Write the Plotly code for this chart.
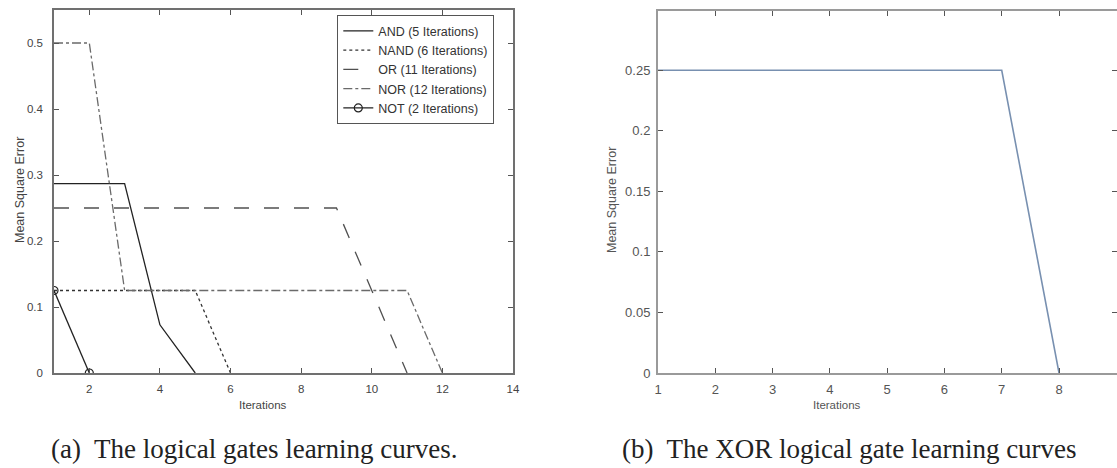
import plotly.graph_objects as go

# ---- data: left panel (logical gates) ----
and_x = [1, 2, 3, 4, 5]
and_y = [0.287, 0.287, 0.287, 0.073, 0.0]
nand_x = [1, 2, 3, 4, 5, 6]
nand_y = [0.125, 0.125, 0.125, 0.125, 0.125, 0.0]
or_x = [1, 2, 3, 4, 5, 6, 7, 8, 9, 10, 11]
or_y = [0.25, 0.25, 0.25, 0.25, 0.25, 0.25, 0.25, 0.25, 0.25, 0.125, 0.0]
nor_x = [1, 2, 3, 4, 5, 6, 7, 8, 9, 10, 11, 12]
nor_y = [0.5, 0.5, 0.125, 0.125, 0.125, 0.125, 0.125, 0.125, 0.125, 0.125, 0.125, 0.0]
not_x = [1, 2]
not_y = [0.125, 0.0]

# ---- data: right panel (XOR) ----
xor_x = [1, 2, 3, 4, 5, 6, 7, 8]
xor_y = [0.25, 0.25, 0.25, 0.25, 0.25, 0.25, 0.25, 0.0]

left_xticks = [2, 4, 6, 8, 10, 12, 14]
left_yticks = [0, 0.1, 0.2, 0.3, 0.4, 0.5]
left_yticklabels = ["0", "0.1", "0.2", "0.3", "0.4", "0.5"]
right_xticks = [1, 2, 3, 4, 5, 6, 7, 8, 9]
right_yticks = [0, 0.05, 0.1, 0.15, 0.2, 0.25]
right_yticklabels = ["0", "0.05", "0.1", "0.15", "0.2", "0.25"]

W, H = 1117, 468
SANS = "Liberation Sans, Arial, sans-serif"
SERIF = "Liberation Serif, Times New Roman, serif"

fig = go.Figure()

fig.add_trace(go.Scatter(x=and_x, y=and_y, mode="lines", name="AND (5 Iterations)",
                         line=dict(color="#222222", width=1.3), xaxis="x", yaxis="y"))
fig.add_trace(go.Scatter(x=nand_x, y=nand_y, mode="lines", name="NAND (6 Iterations)",
                         line=dict(color="#333333", width=1.3, dash="dot"), xaxis="x", yaxis="y"))
fig.add_trace(go.Scatter(x=or_x, y=or_y, mode="lines", name="OR (11 Iterations)",
                         line=dict(color="#505050", width=1.3, dash="longdash"), xaxis="x", yaxis="y"))
fig.add_trace(go.Scatter(x=nor_x, y=nor_y, mode="lines", name="NOR (12 Iterations)",
                         line=dict(color="#6a6a6a", width=1.3, dash="dashdot"), xaxis="x", yaxis="y"))
fig.add_trace(go.Scatter(x=not_x, y=not_y, mode="lines+markers", name="NOT (2 Iterations)",
                         line=dict(color="#222222", width=1.3),
                         marker=dict(symbol="circle-open", size=8, color="#222222", line=dict(width=1.2)),
                         xaxis="x", yaxis="y"))

fig.add_trace(go.Scatter(x=xor_x, y=xor_y, mode="lines", name="XOR",
                         line=dict(color="#7890b0", width=1.6), xaxis="x2", yaxis="y2",
                         showlegend=False))

def px_x(p):
    return p / W

def px_y(p):
    return 1 - p / H

axis_common = dict(showgrid=False, zeroline=False, showline=True, mirror="ticks",
                   ticks="inside", ticklen=5, tickwidth=1, automargin=False)

fig.update_layout(
    width=W, height=H,
    margin=dict(l=0, r=0, t=0, b=0, pad=0),
    paper_bgcolor="white", plot_bgcolor="white",
    font=dict(family=SANS, size=11, color="#333333"),
    xaxis=dict(domain=[px_x(54), px_x(513)], range=[1, 14], tickvals=left_xticks,
               linecolor="#707070", linewidth=1.5, tickcolor="#555555",
               tickfont=dict(size=11.5, color="#444444"), ticklabelstandoff=4,
               anchor="y", **axis_common),
    yaxis=dict(domain=[px_y(373), px_y(10)], range=[0, 0.55], tickvals=left_yticks,
               ticktext=left_yticklabels,
               linecolor="#707070", linewidth=1.5, tickcolor="#555555",
               tickfont=dict(size=11.5, color="#444444"), ticklabelstandoff=7,
               anchor="x", **axis_common),
    xaxis2=dict(domain=[px_x(658), 1.0], range=[1, 9.012], tickvals=right_xticks,
                linecolor="#9a9a9a", linewidth=2, tickcolor="#555555",
                tickfont=dict(size=13, color="#555555"), ticklabelstandoff=3,
                anchor="y2", **axis_common),
    yaxis2=dict(domain=[px_y(373), px_y(11)], range=[0, 0.299], tickvals=right_yticks,
                ticktext=right_yticklabels,
                linecolor="#9a9a9a", linewidth=2, tickcolor="#555555",
                tickfont=dict(size=13, color="#555555"), ticklabelstandoff=3,
                anchor="x2", **axis_common),
    showlegend=True,
    legend=dict(x=px_x(337), y=px_y(15), xanchor="left", yanchor="top",
                bgcolor="white", bordercolor="#555555", borderwidth=1.3,
                font=dict(family=SANS, size=12.5, color="#333333"),
                itemwidth=30, tracegroupgap=0),
)

def ann(text, x, y, size, color, family=SANS, angle=0):
    return dict(text=text, x=px_x(x), y=px_y(y), xref="paper", yref="paper",
                xanchor="center", yanchor="middle", textangle=angle, showarrow=False,
                font=dict(family=family, size=size, color=color))

annotations = [
    ann("Mean Square Error", 20, 190, 12.5, "#444444", angle=-90),
    ann("Iterations", 263, 405, 11.5, "#444444"),
    ann("Mean Square Error", 612, 200, 12.5, "#555555", angle=-90),
    ann("Iterations", 837, 405, 11.5, "#555555"),
    ann("(a)  The logical gates learning curves.", 254, 449, 27, "#222222", family=SERIF),
    ann("(b)  The XOR logical gate learning curves", 849, 449, 27, "#222222", family=SERIF),
]
fig.update_layout(annotations=annotations)

post = (
    "document.documentElement.style.margin='0';"
    "document.documentElement.style.padding='0';"
    "document.documentElement.style.overflow='hidden';"
    "document.body.style.margin='0';"
    "document.body.style.padding='0';"
    "document.body.style.overflow='hidden';"
    "var gd=document.getElementById('{plot_id}');"
    "if(gd&&gd.parentElement){gd.parentElement.style.height='468px';"
    "gd.parentElement.style.width='1117px';gd.parentElement.style.overflow='hidden';}"
)

fig.write_html("out.html", config={"displayModeBar": False}, post_script=post)
